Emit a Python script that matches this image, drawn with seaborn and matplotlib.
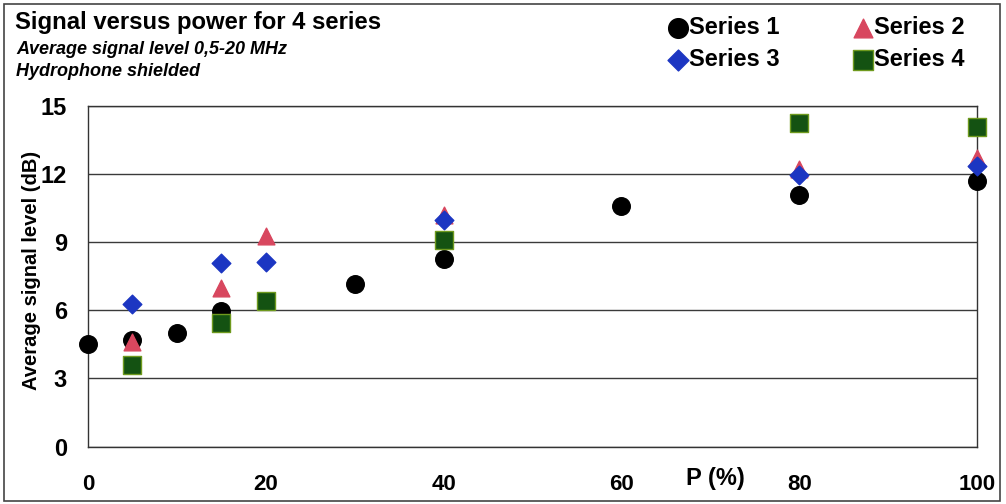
import matplotlib
matplotlib.use("Agg")
import matplotlib.pyplot as plt
from matplotlib.patches import Rectangle
import numpy as np
import pandas as pd
import seaborn as sns

# Measured points: power (%) and average signal level (dB) per series
s1_power = [0, 5, 10, 15, 30, 40, 60, 80, 100]
s1_level = [4.53, 4.69, 5.0, 5.95, 7.15, 8.25, 10.57, 11.05, 11.68]

s2_power = [5, 15, 20, 40, 80, 100]
s2_level = [4.6, 6.98, 9.25, 10.2, 12.2, 12.7]

s3_power = [5, 15, 20, 40, 80, 100]
s3_level = [6.27, 8.08, 8.12, 9.95, 11.93, 12.33]

s4_power = [5, 15, 20, 40, 80, 100]
s4_level = [3.6, 5.45, 6.39, 9.1, 14.22, 14.08]

series_names = ["Series 1", "Series 2", "Series 3", "Series 4"]
x_ticks = [0, 20, 40, 60, 80, 100]
y_ticks = [0, 3, 6, 9, 12, 15]

frames = []
for name, xs, ys in zip(series_names,
                        [s1_power, s2_power, s3_power, s4_power],
                        [s1_level, s2_level, s3_level, s4_level]):
    frames.append(pd.DataFrame({"power": xs, "level": ys, "series": name}))
df = pd.concat(frames, ignore_index=True)

sns.set_theme(style="white")
plt.rcParams["font.family"] = ["Liberation Sans", "DejaVu Sans"]
plt.rcParams["text.color"] = "black"
plt.rcParams["axes.labelcolor"] = "black"
plt.rcParams["xtick.color"] = "black"
plt.rcParams["ytick.color"] = "black"

palette = {"Series 1": "#000000", "Series 2": "#d8475f",
           "Series 3": "#1c36c2", "Series 4": "#145212"}
markers = {"Series 1": "o", "Series 2": "^", "Series 3": "D", "Series 4": "s"}
sizes_pt = {"Series 1": 160, "Series 2": 145, "Series 3": 90, "Series 4": 150}
edges = {"Series 1": "#000000", "Series 2": "#d8475f",
         "Series 3": "#1c36c2", "Series 4": "#6f9a1e"}

fig = plt.figure(figsize=(10.06, 5.04), dpi=100)
fig.patch.set_facecolor("white")
ax = fig.add_axes([88 / 1006, 1 - 446.5 / 504, (977 - 88) / 1006, (446.5 - 105.7) / 504])

for name in series_names:
    sub = df[df["series"] == name]
    sns.scatterplot(data=sub, x="power", y="level", ax=ax,
                    color=palette[name], marker=markers[name],
                    s=sizes_pt[name], edgecolor=edges[name], linewidth=1.0,
                    label=name, zorder=3, clip_on=False)

ax.set_xlim(0, 100)
ax.set_ylim(0, 15)
ax.set_xticks(x_ticks)
ax.set_yticks(y_ticks)
ax.set_xticklabels([str(v) for v in x_ticks], fontsize=16, fontweight="bold")
ax.set_yticklabels([str(v) for v in y_ticks], fontsize=17, fontweight="bold")
ax.tick_params(axis="x", direction="out", length=5, width=1, color="#333333", pad=15)
ax.tick_params(axis="y", direction="out", length=5, width=1, color="#333333", pad=10)
ax.grid(axis="y", color="#3a3a3a", linewidth=1.0)
ax.grid(axis="x", visible=False)
ax.set_axisbelow(True)
for sp in ax.spines.values():
    sp.set_visible(True)
    sp.set_color("#333333")
    sp.set_linewidth(1.0)

ax.set_xlabel("")
ax.set_ylabel("Average signal level (dB)", fontsize=14.5, fontweight="bold")
ax.yaxis.set_label_coords(-0.053, 0.518)

# Axis name placed in the tick-label row between 60 and 80
fig.text(715 / 1006, 1 - 478 / 504, "P (%)", fontsize=17, fontweight="bold",
         ha="center", va="center")

# Titles
fig.text(15 / 1006, 1 - 23 / 504, "Signal versus power for 4 series",
         fontsize=17.2, fontweight="bold", ha="left", va="center")
fig.text(16 / 1006, 1 - 50 / 504, "Average signal level 0,5-20 MHz",
         fontsize=13, fontweight="bold", style="italic", ha="left", va="center")
fig.text(16 / 1006, 1 - 71 / 504, "Hydrophone shielded",
         fontsize=13, fontweight="bold", style="italic", ha="left", va="center")

# Legend in two rows: 1 | 2 over 3 | 4
handles, labels = ax.get_legend_handles_labels()
ax.get_legend().remove()
order = [0, 2, 1, 3]
fig.legend([handles[i] for i in order], [labels[i] for i in order],
           loc="upper left", bbox_to_anchor=(668.5 / 1006, 1 - 16.5 / 504), ncol=2,
           frameon=False, prop={"weight": "bold", "size": 17},
           handletextpad=0.08, columnspacing=3.1, labelspacing=0.36,
           handlelength=0.8, markerscale=1.12, borderpad=0.0, borderaxespad=0.0)

# Outer frame around the whole figure
fig.patches.append(Rectangle((4 / 1006, 3 / 504), 996 / 1006, 497 / 504,
                             transform=fig.transFigure, fill=False,
                             edgecolor="#444444", linewidth=1.2))

fig.savefig("out.png", dpi=100, facecolor="white")
